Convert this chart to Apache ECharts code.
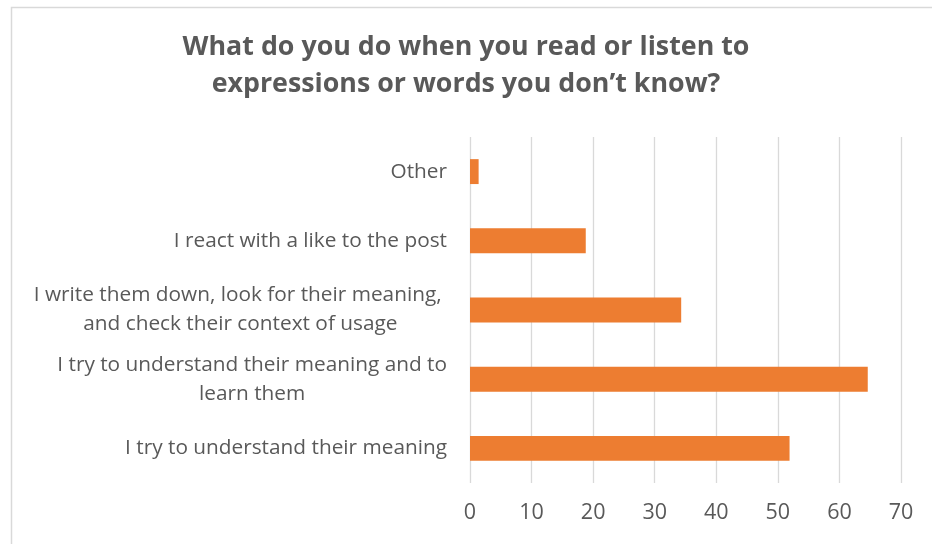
<!DOCTYPE html>
<html>
<head>
<meta charset="utf-8">
<script src="https://cdn.jsdelivr.net/npm/echarts@6/dist/echarts.min.js"></script>
<style>
  html, body { margin: 0; padding: 0; background: #fff; }
  #chart { width: 932px; height: 544px; }
</style>
</head>
<body>
<div id="chart"></div>
<script>
// Survey answers, listed bottom-to-top as they appear on the category axis
const categories = [
  'I try to understand their meaning',
  'I try to understand their meaning and to\nlearn them',
  'I write them down, look for their meaning, \nand check their context of usage',
  'I react with a like to the post',
  'Other'
];
const values = [51.9, 64.6, 34.3, 18.8, 1.4];
const xTicks = { min: 0, max: 70, interval: 10 };
const titleText = 'What do you do when you read or listen to\nexpressions or words you don\u2019t know?';

const FONT = '"Open Sans", "Noto Sans", sans-serif';
const TEXT_COLOR = '#595959';

// Multi-line labels: lines centred on each other, block right-aligned to the axis
function categoryLabel(value) {
  if (value.indexOf('\n') < 0) return value;
  return value.split('\n').map(function (line) { return '{c|' + line + '}'; }).join('\n');
}

const chart = echarts.init(document.getElementById('chart'), null, { renderer: 'canvas' });
chart.setOption({
  backgroundColor: '#ffffff',
  animation: false,
  graphic: [{
    type: 'rect',
    left: 9, top: 5,
    shape: { width: 940, height: 560 },
    style: { fill: 'none', stroke: '#d9d9d9', lineWidth: 1.5 },
    silent: true
  }],
  title: {
    text: titleText,
    left: 'center',
    top: 29,
    padding: 0,
    textStyle: {
      fontFamily: FONT,
      fontSize: 26.8,
      fontWeight: 'bold',
      lineHeight: 37,
      color: TEXT_COLOR
    }
  },
  grid: { left: 470, right: 31, top: 137, bottom: 61, containLabel: false },
  xAxis: {
    type: 'value',
    min: xTicks.min, max: xTicks.max, interval: xTicks.interval,
    axisLine: { show: false },
    axisTick: { show: false },
    splitLine: { show: true, lineStyle: { color: '#d9d9d9', width: 1.3 } },
    axisLabel: { fontFamily: FONT, fontSize: 21.5, color: TEXT_COLOR, margin: 19 }
  },
  yAxis: {
    type: 'category',
    data: categories,
    axisLine: { show: false },
    axisTick: { show: false },
    splitLine: { show: false },
    axisLabel: {
      fontFamily: FONT, fontSize: 20.8, color: TEXT_COLOR, margin: 23,
      lineHeight: 29,
      formatter: categoryLabel,
      rich: { c: { align: 'center', fontFamily: FONT, fontSize: 20.8, color: TEXT_COLOR, lineHeight: 29 } }
    }
  },
  series: [{
    type: 'bar',
    data: values,
    barWidth: '36%',
    itemStyle: { color: '#ED7D31' }
  }]
});
</script>
</body>
</html>
